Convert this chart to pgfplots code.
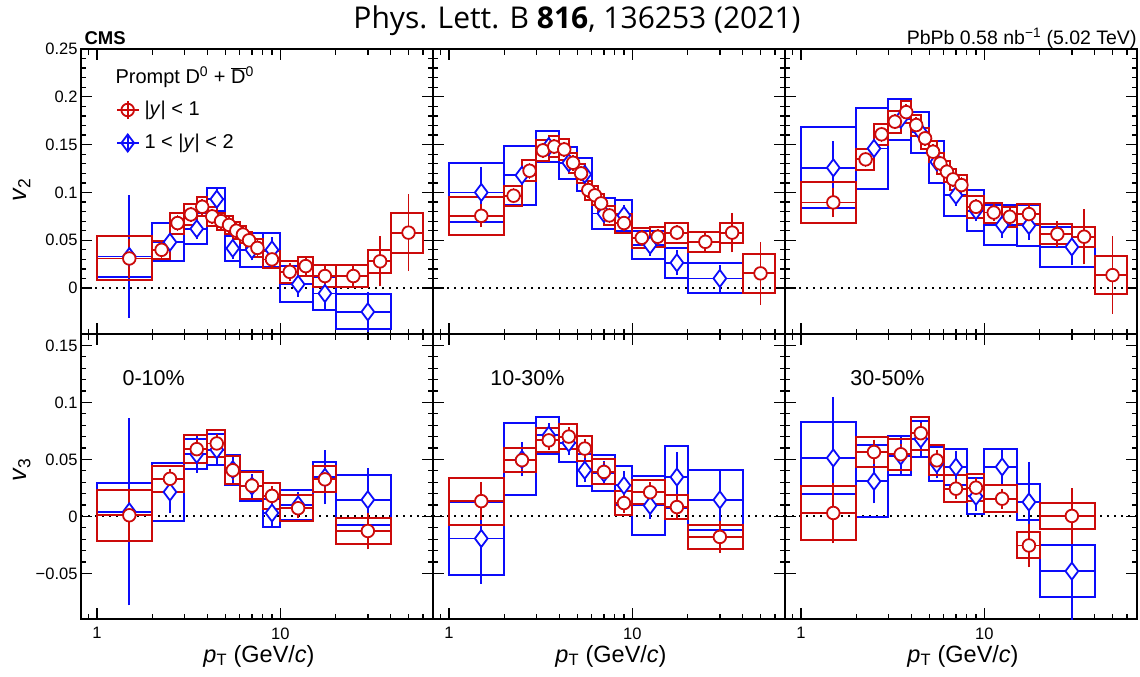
\documentclass[border=0pt]{standalone}
\usepackage{pgfplots}
\pgfplotsset{compat=1.18}
\usepackage{pgfplotstable}
\usepackage{fontspec}
\setmainfont{Liberation Sans}
\newfontfamily\titlefont{Open Sans}
\definecolor{cmsred}{RGB}{204,10,10}
\definecolor{cmsblue}{RGB}{12,12,250}
\newcommand\fs[1]{\fontsize{#1}{#1}\selectfont}

% columns: bin low, bin high, pT, value, stat. unc., syst. unc.
% ---- v2, 0-10% ----
\pgfplotstableread{
lo hi x y stat sys
1 2 1.5 0.031 0.0175 0.023
2 2.5 2.25 0.040 0.005 0.0096
2.5 3 2.75 0.068 0.005 0.011
3 3.5 3.25 0.077 0.005 0.011
3.5 4 3.75 0.085 0.005 0.010
4 4.5 4.25 0.075 0.005 0.010
4.5 5 4.75 0.070 0.005 0.009
5 5.5 5.25 0.066 0.005 0.009
5.5 6 5.75 0.060 0.005 0.009
6 6.5 6.25 0.056 0.005 0.009
6.5 7 6.75 0.050 0.005 0.009
7 8 7.5 0.042 0.005 0.009
8 10 9 0.030 0.006 0.009
10 12.5 11.25 0.017 0.006 0.0115
12.5 15 13.75 0.023 0.006 0.010
15 20 17.5 0.0126 0.008 0.0113
20 30 25 0.0126 0.009 0.0113
30 40 35 0.028 0.023 0.0117
40 60 50 0.058 0.037 0.021
}\tAr
\pgfplotstableread{
lo hi x y stat sys
1 2 1.5 0.033 0.061 0.021
2 3 2.5 0.048 0.012 0.020
3 4 3.5 0.062 0.008 0.016
4 5 4.5 0.093 0.008 0.012
5 6 5.5 0.0415 0.008 0.013
6 8 7 0.040 0.008 0.018
8 10 9 0.040 0.010 0.0178
10 15 12.5 0.004 0.010 0.019
15 20 17.5 -0.0056 0.015 0.0174
20 40 30 -0.0248 0.018 0.0185
}\tAb
% ---- v2, 10-30% ----
\pgfplotstableread{
lo hi x y stat sys
1 2 1.5 0.0756 0.009 0.020
2 2.5 2.25 0.0966 0.005 0.0105
2.5 3 2.75 0.1227 0.005 0.0108
3 3.5 3.25 0.144 0.005 0.0108
3.5 4 3.75 0.148 0.005 0.0108
4 4.5 4.25 0.145 0.005 0.011
4.5 5 4.75 0.131 0.005 0.0105
5 5.5 5.25 0.120 0.005 0.010
5.5 6 5.75 0.1025 0.005 0.010
6 6.5 6.25 0.097 0.005 0.010
6.5 7 6.75 0.0886 0.005 0.010
7 8 7.5 0.076 0.005 0.010
8 10 9 0.068 0.005 0.010
10 12.5 11.25 0.0526 0.005 0.0105
12.5 15 13.75 0.0537 0.005 0.0105
15 20 17.5 0.058 0.005 0.0105
20 30 25 0.0484 0.007 0.0105
30 40 35 0.058 0.0176 0.0105
40 60 50 0.0154 0.0296 0.0204
}\tBr
\pgfplotstableread{
lo hi x y stat sys
1 2 1.5 0.100 0.0235 0.031
2 3 2.5 0.118 0.010 0.031
3 4 3.5 0.148 0.006 0.016
4 5 4.5 0.131 0.006 0.017
5 6 5.5 0.119 0.006 0.017
6 8 7 0.078 0.006 0.0157
8 10 9 0.076 0.008 0.016
10 15 12.5 0.045 0.008 0.015
15 20 17.5 0.0265 0.010 0.0155
20 40 30 0.0101 0.011 0.0157
}\tBb
% ---- v2, 30-50% ----
\pgfplotstableread{
lo hi x y stat sys
1 2 1.5 0.0896 0.0122 0.0215
2 2.5 2.25 0.1346 0.005 0.011
2.5 3 2.75 0.1608 0.005 0.0113
3 3.5 3.25 0.174 0.005 0.0113
3.5 4 3.75 0.184 0.005 0.0113
4 4.5 4.25 0.1705 0.005 0.011
4.5 5 4.75 0.1566 0.005 0.011
5 5.5 5.25 0.1426 0.005 0.011
5.5 6 5.75 0.1304 0.005 0.011
6 6.5 6.25 0.1217 0.005 0.011
6.5 7 6.75 0.1137 0.005 0.011
7 8 7.5 0.1077 0.005 0.011
8 10 9 0.085 0.005 0.0113
10 12.5 11.25 0.079 0.006 0.0105
12.5 15 13.75 0.0746 0.006 0.0105
15 20 17.5 0.0774 0.006 0.0105
20 30 25 0.0565 0.010 0.0108
30 40 35 0.0537 0.0258 0.0105
40 60 50 0.0136 0.0375 0.0202
}\tCr
\pgfplotstableread{
lo hi x y stat sys
1 2 1.5 0.1258 0.0248 0.0424
2 3 2.5 0.146 0.012 0.0425
3 4 3.5 0.1765 0.008 0.0214
4 5 4.5 0.163 0.008 0.0213
5 6 5.5 0.132 0.008 0.0217
6 8 7 0.097 0.008 0.0213
8 10 9 0.081 0.008 0.0216
10 15 12.5 0.066 0.010 0.0213
15 20 17.5 0.0655 0.012 0.021
20 40 30 0.043 0.016 0.0214
}\tCb
% ---- v3, 0-10% ----
\pgfplotstableread{
lo hi x y stat sys
1 2 1.5 0.001 0.020 0.0224
2 3 2.5 0.033 0.006 0.0114
3 4 3.5 0.059 0.006 0.012
4 5 4.5 0.064 0.006 0.0117
5 6 5.5 0.0405 0.006 0.0121
6 8 7 0.027 0.006 0.0117
8 10 9 0.018 0.006 0.0114
10 15 12.5 0.0072 0.006 0.0114
15 20 17.5 0.0325 0.008 0.0114
20 40 30 -0.0128 0.0135 0.0113
}\bAr
\pgfplotstableread{
lo hi x y stat sys
1 2 1.5 0.004 0.0795 0.0255
2 3 2.5 0.0214 0.016 0.0253
3 4 3.5 0.0545 0.0135 0.0132
4 5 4.5 0.0585 0.010 0.0138
5 6 5.5 0.041 0.010 0.0132
6 8 7 0.0266 0.008 0.0132
8 10 9 0.003 0.010 0.0127
10 15 12.5 0.010 0.009 0.0132
15 20 17.5 0.0343 0.021 0.0132
20 40 30 0.0146 0.025 0.0217
}\bAb
% ---- v3, 10-30% ----
\pgfplotstableread{
lo hi x y stat sys
1 2 1.5 0.0134 0.014 0.0205
2 3 2.5 0.0493 0.006 0.0106
3 4 3.5 0.0667 0.006 0.0106
4 5 4.5 0.070 0.006 0.0109
5 6 5.5 0.0595 0.006 0.011
6 8 7 0.039 0.006 0.011
8 10 9 0.0117 0.006 0.0107
10 15 12.5 0.0212 0.006 0.0106
15 20 17.5 0.0082 0.008 0.0103
20 40 30 -0.018 0.0115 0.0106
}\bBr
\pgfplotstableread{
lo hi x y stat sys
1 2 1.5 -0.0194 0.037 0.0318
2 3 2.5 0.050 0.0122 0.0315
3 4 3.5 0.0712 0.008 0.0161
4 5 4.5 0.0645 0.008 0.0164
5 6 5.5 0.0405 0.008 0.0139
6 8 7 0.038 0.008 0.0158
8 10 9 0.0272 0.010 0.0173
10 15 12.5 0.0096 0.009 0.026
15 20 17.5 0.0345 0.019 0.027
20 40 30 0.0145 0.0225 0.0264
}\bBb
% ---- v3, 30-50% ----
\pgfplotstableread{
lo hi x y stat sys
1 2 1.5 0.003 0.024 0.0233
2 3 2.5 0.0565 0.0082 0.0132
3 4 3.5 0.0545 0.006 0.0135
4 5 4.5 0.073 0.006 0.0146
5 6 5.5 0.0492 0.006 0.0132
6 8 7 0.0243 0.006 0.0117
8 10 9 0.0252 0.006 0.0119
10 15 12.5 0.0155 0.006 0.0117
15 20 17.5 -0.0255 0.0164 0.0114
20 40 30 0.0004 0.0217 0.0114
}\bCr
\pgfplotstableread{
lo hi x y stat sys
1 2 1.5 0.0513 0.051 0.0315
2 3 2.5 0.0308 0.0168 0.0315
3 4 3.5 0.053 0.0139 0.0171
4 5 4.5 0.068 0.013 0.0161
5 6 5.5 0.046 0.010 0.0151
6 8 7 0.0433 0.0117 0.0158
8 10 9 0.0176 0.010 0.0158
10 15 12.5 0.0434 0.012 0.0158
15 20 17.5 0.0126 0.0325 0.0154
20 40 30 -0.048 0.040 0.0231
}\bCb

% systematic boxes (bin width x value +- syst) with a line at the central value
\newcommand\systboxes[2]{%
  \pgfplotstablegetrowsof{#1}%
  \pgfmathtruncatemacro\nrows{\pgfplotsretval-1}%
  \pgfplotsforeachungrouped \i in {0,...,\nrows}{%
    \pgfplotstablegetelem{\i}{lo}\of{#1}\let\blo\pgfplotsretval
    \pgfplotstablegetelem{\i}{hi}\of{#1}\let\bhi\pgfplotsretval
    \pgfplotstablegetelem{\i}{y}\of{#1}\let\bval\pgfplotsretval
    \pgfplotstablegetelem{\i}{sys}\of{#1}\let\bsys\pgfplotsretval
    \pgfmathsetmacro\bdn{\bval-\bsys}%
    \pgfmathsetmacro\bup{\bval+\bsys}%
    \edef\boxcmd{\noexpand\addplot[#2, line width=2pt, line cap=rect, forget plot]
        coordinates {(\blo,\bdn) (\bhi,\bdn) (\bhi,\bup) (\blo,\bup) (\blo,\bdn)};
      \noexpand\addplot[#2, line width=1.8pt, forget plot]
        coordinates {(\blo,\bval) (\bhi,\bval)};}%
    \boxcmd
  }%
}
% points with statistical error bars
\newcommand\statpoints[3]{%
  \addplot[#2, only marks, line width=1.8pt, forget plot, #3,
    error bars/.cd, y dir=both, y explicit,
    error bar style={#2, line width=1.8pt},
    error mark options={#2, mark size=3pt, line width=1.8pt}]
    table[x=x, y=y, y error=stat] {#1};%
}
\newcommand\redset[1]{\systboxes{#1}{cmsred}\statpoints{#1}{cmsred}{mark=*, mark size=6.3pt, mark options={fill=white, draw=cmsred, solid}}}
\newcommand\blueset[1]{\systboxes{#1}{cmsblue}\statpoints{#1}{cmsblue}{mark=diamond*, mark size=8.5pt, mark options={fill=white, draw=cmsblue, solid}}}
\newcommand\zeroline{\addplot[black, line width=2pt, dash pattern=on 2pt off 5pt, forget plot] coordinates {(0.818,0) (68,0)};}

\begin{document}
\begin{tikzpicture}
\useasboundingbox (0,0) rectangle (1140pt,-677pt);

% ---------- top row: v2 ----------
\begin{axis}[scale only axis, width=352pt, height=285pt, at={(81pt,-49pt)}, anchor=north west,
  xmode=log, xmin=0.818, xmax=68, ymin=-0.048, ymax=0.25,
  axis line style={line width=2pt}, tick align=inside,
  tick style={line width=1.3pt, black}, major tick length=11pt, minor tick length=5.5pt,
  xtick={1,10}, minor xtick={0.9,2,3,4,5,6,7,8,9,20,30,40,50,60}, xticklabels={},
  ytick={0,0.05,0.1,0.15,0.2,0.25}, minor y tick num=4,
  yticklabels={0,0.05,0.1,0.15,0.2,0.25}, tick label style={font=\fs{16.5}}]
\zeroline
\blueset{\tAb}
\redset{\tAr}
\end{axis}

\begin{axis}[scale only axis, width=352pt, height=285pt, at={(433pt,-49pt)}, anchor=north west,
  xmode=log, xmin=0.818, xmax=68, ymin=-0.048, ymax=0.25,
  axis line style={line width=2pt}, tick align=inside,
  tick style={line width=1.3pt, black}, major tick length=11pt, minor tick length=5.5pt,
  xtick={1,10}, minor xtick={0.9,2,3,4,5,6,7,8,9,20,30,40,50,60}, xticklabels={},
  ytick={0,0.05,0.1,0.15,0.2,0.25}, minor y tick num=4, yticklabels={}]
\zeroline
\blueset{\tBb}
\redset{\tBr}
\end{axis}

\begin{axis}[scale only axis, width=352pt, height=285pt, at={(785pt,-49pt)}, anchor=north west,
  xmode=log, xmin=0.818, xmax=68, ymin=-0.048, ymax=0.25,
  axis line style={line width=2pt}, tick align=inside,
  tick style={line width=1.3pt, black}, major tick length=11pt, minor tick length=5.5pt,
  xtick={1,10}, minor xtick={0.9,2,3,4,5,6,7,8,9,20,30,40,50,60}, xticklabels={},
  ytick={0,0.05,0.1,0.15,0.2,0.25}, minor y tick num=4, yticklabels={}]
\zeroline
\blueset{\tCb}
\redset{\tCr}
\end{axis}

% ---------- bottom row: v3 ----------
\begin{axis}[scale only axis, width=352pt, height=285pt, at={(81pt,-334pt)}, anchor=north west,
  xmode=log, xmin=0.818, xmax=68, ymin=-0.09, ymax=0.16,
  axis line style={line width=2pt}, tick align=inside,
  tick style={line width=1.3pt, black}, major tick length=11pt, minor tick length=5.5pt,
  xtick={1,10}, minor xtick={0.9,2,3,4,5,6,7,8,9,20,30,40,50,60}, xticklabels={1,10},
  ytick={-0.05,0,0.05,0.1,0.15}, minor y tick num=4,
  yticklabels={−0.05,0,0.05,0.1,0.15}, tick label style={font=\fs{16.5}},
  xticklabel style={yshift=-5pt}]
\zeroline
\blueset{\bAb}
\redset{\bAr}
\node[anchor=west, font=\fs{21.5}] at (rel axis cs:0.108,0.845) {0-10\%};
\end{axis}

\begin{axis}[scale only axis, width=352pt, height=285pt, at={(433pt,-334pt)}, anchor=north west,
  xmode=log, xmin=0.818, xmax=68, ymin=-0.09, ymax=0.16,
  axis line style={line width=2pt}, tick align=inside,
  tick style={line width=1.3pt, black}, major tick length=11pt, minor tick length=5.5pt,
  xtick={1,10}, minor xtick={0.9,2,3,4,5,6,7,8,9,20,30,40,50,60}, xticklabels={1,10},
  ytick={-0.05,0,0.05,0.1,0.15}, minor y tick num=4,
  yticklabels={}, tick label style={font=\fs{16.5}},
  xticklabel style={yshift=-5pt}]
\zeroline
\blueset{\bBb}
\redset{\bBr}
\node[anchor=west, font=\fs{21.5}] at (rel axis cs:0.153,0.845) {10-30\%};
\end{axis}

\begin{axis}[scale only axis, width=352pt, height=285pt, at={(785pt,-334pt)}, anchor=north west,
  xmode=log, xmin=0.818, xmax=68, ymin=-0.09, ymax=0.16,
  axis line style={line width=2pt}, tick align=inside,
  tick style={line width=1.3pt, black}, major tick length=11pt, minor tick length=5.5pt,
  xtick={1,10}, minor xtick={0.9,2,3,4,5,6,7,8,9,20,30,40,50,60}, xticklabels={1,10},
  ytick={-0.05,0,0.05,0.1,0.15}, minor y tick num=4,
  yticklabels={}, tick label style={font=\fs{16.5}},
  xticklabel style={yshift=-5pt}]
\zeroline
\blueset{\bCb}
\redset{\bCr}
\node[anchor=west, font=\fs{21.5}] at (rel axis cs:0.176,0.845) {30-50\%};
\end{axis}

% ---------- legend key ----------
\begin{axis}[hide axis, x=1pt, y=1pt, xmin=0, xmax=22, ymin=-10, ymax=43,
  anchor=south west, at={(116.7pt,-153pt)}, clip=false]
\addplot[cmsred, line width=1.8pt, mark=o, mark size=6.3pt, mark options={solid},
  error bars/.cd, x dir=both, x explicit, y dir=both, y explicit, error mark=none,
  error bar style={line width=1.8pt}] coordinates {(11,33) +- (11,9)};
\addplot[cmsblue, line width=1.8pt, mark=diamond, mark size=8.5pt, mark options={solid},
  error bars/.cd, x dir=both, x explicit, y dir=both, y explicit, error mark=none,
  error bar style={line width=1.8pt}] coordinates {(11,0) +- (11,9)};
\end{axis}
\node[anchor=west, font=\fs{20}] at (141pt,-110pt) {|\textit{y}| < 1};
\node[anchor=west, font=\fs{20}] at (141pt,-143pt) {1 < |\textit{y}| < 2};
\node[anchor=west, font=\fs{20}] at (112pt,-77pt) {Prompt D\textsuperscript{0} + $\overline{\mbox{D}}$\textsuperscript{0}};

% ---------- labels ----------
\node[font=\titlefont\fs{30}] at (577pt,-21pt) {Phys. Lett. B \textbf{816}, 136253 (2021)};
\node[anchor=base west, font=\bfseries\fs{18.5}] at (81pt,-45pt) {CMS};
\node[anchor=base east, font=\fs{19.5}] at (1140pt,-45pt) {PbPb 0.58 nb\textsuperscript{−1} (5.02 TeV)};
\node[rotate=90, font=\fs{25}] at (22pt,-190pt) {\textit{v}\textsubscript{2}};
\node[rotate=90, font=\fs{25}] at (22pt,-470pt) {\textit{v}\textsubscript{3}};
\foreach \xc in {259,611,963}
  \node[font=\fs{23.5}] at (\xc pt,-656pt) {\textit{p}\textsubscript{T} (GeV/\textit{c})};
\end{tikzpicture}
\end{document}
